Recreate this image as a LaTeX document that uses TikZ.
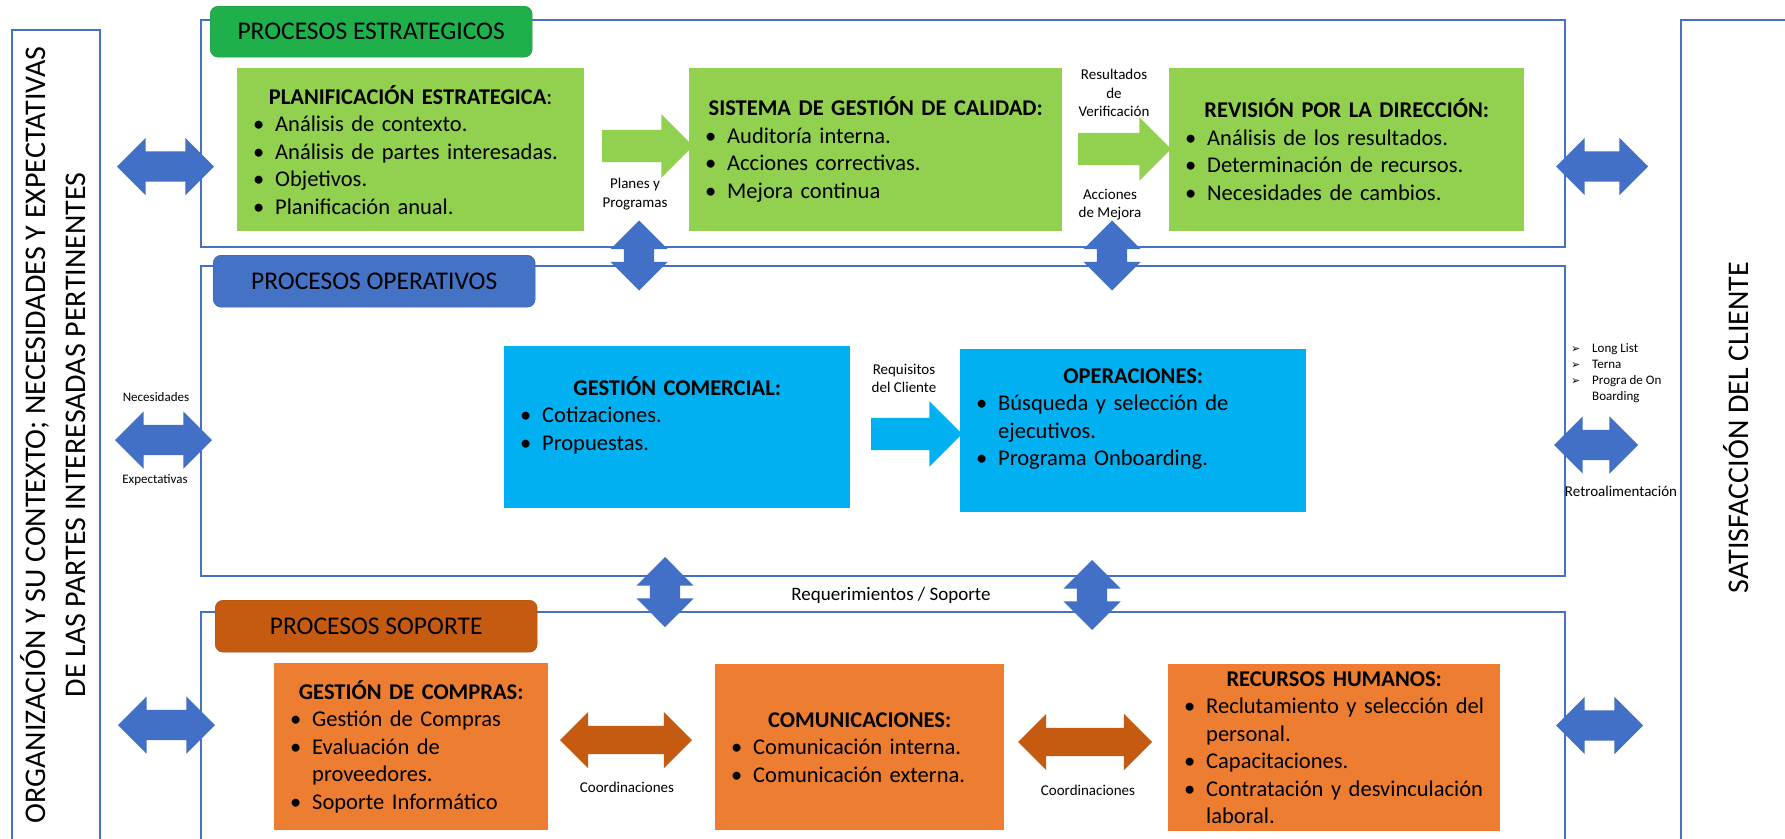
\documentclass[tikz,border=0pt]{standalone}
\usepackage{fontspec}
\setmainfont{Carlito}
\newfontfamily\symfont{DejaVu Sans}
\usetikzlibrary{arrows.meta,positioning,shapes.arrows}
\definecolor{MapBlue}{HTML}{4472C4}
\definecolor{MapArrow}{HTML}{4270C6}
\definecolor{MapGreen}{HTML}{92D050}
\definecolor{MapTabGreen}{HTML}{1FAF4B}
\definecolor{MapCyan}{HTML}{00B0F0}
\definecolor{MapOrange}{HTML}{ED7D31}
\definecolor{MapRust}{HTML}{C55A11}
\newcommand{\boxhead}[2][]{{\centering\bfseries #2\mdseries#1\par}}
\newcommand{\bul}[1]{\par\noindent\makebox[27pt][l]{\hspace*{5pt}\textbullet}#1}
\newcommand{\cont}[1]{\par\noindent\hspace*{27pt}#1}
\newcommand{\lst}{\makebox[21pt][l]{\symfont\fontsize{11}{11}\selectfont ➢}}
\tikzset{
  panel/.style={draw=MapBlue, line width=2pt, anchor=north west, inner sep=0pt},
  tab/.style={rounded corners=8pt, minimum width=322pt, minimum height=51pt, inner sep=0pt,
    anchor=north west, font=\fontsize{25.5}{30}\selectfont},
  activity/.style={anchor=north west, inner xsep=11pt, inner ysep=0pt, align=left,
    font=\fontsize{22.5}{27.5}\selectfont},
  biarrow/.style={double arrow, fill=MapArrow, inner xsep=0pt, inner ysep=15pt,
    double arrow head extend=13.5pt, double arrow tip angle=90},
  fwdarrow/.style={single arrow, inner xsep=0pt, inner ysep=16pt,
    single arrow head extend=15.5pt, single arrow tip angle=90},
  tag/.style={inner sep=0pt, align=center, font=\fontsize{15}{18.5}\selectfont},
  smalltag/.style={inner sep=0pt, align=center, font=\fontsize{13}{16}\selectfont},
  sidetext/.style={rotate=90, align=center, inner sep=0pt, font=\fontsize{30}{40}\selectfont}
}
\begin{document}
\begin{tikzpicture}[x=1pt, y=-1pt]
  \clip (0,0) rectangle (1785,838);
  \fill[white] (0,0) rectangle (1785,838);
  \node[panel, minimum width=88pt, minimum height=830pt] (orgbox) at (11,29) {};
  \node[panel, minimum width=120pt, minimum height=840pt] (clientbox) at (1680,19) {};
  \node[panel, minimum width=1364pt, minimum height=227pt] (stratpanel) at (200,19) {};
  \node[panel, minimum width=1364pt, minimum height=310pt] (opspanel) at (200,265) {};
  \node[panel, minimum width=1364pt, minimum height=240pt] (suppanel) at (200,611) {};
  \node[sidetext] (orgtext) at (53,435) {ORGANIZACIÓN Y SU CONTEXTO; NECESIDADES Y EXPECTATIVAS\\DE LAS PARTES INTERESADAS PERTINENTES};
  \node[sidetext] (clienttext) at (1736,427.5) {SATISFACCIÓN DEL CLIENTE};

  \node[tab, fill=MapTabGreen, draw=MapTabGreen!85!black] (tabstrat) at (210,6) {PROCESOS ESTRATEGICOS};
  \node[tab, fill=MapBlue, draw=MapBlue!85!black, minimum height=52pt] (tabops) at (213,255) {PROCESOS OPERATIVOS};
  \node[tab, fill=MapRust, draw=MapRust!85!black, minimum height=52pt] (tabsup) at (215,600) {PROCESOS SOPORTE};

  \node[activity, fill=MapGreen, minimum width=347pt, minimum height=163pt, text width=325pt] (planif) at (237,68)
    {\boxhead[:]{PLANIFICACIÓN ESTRATEGICA}
     \bul{Análisis de contexto.}
     \bul{Análisis de partes interesadas.}
     \bul{Objetivos.}
     \bul{Planificación anual.}};
  \node[activity, fill=MapGreen, minimum width=373pt, minimum height=163pt, text width=351pt] (sgc) at (689,68)
    {\boxhead{SISTEMA DE GESTIÓN DE CALIDAD:}
     \bul{Auditoría interna.}
     \bul{Acciones correctivas.}
     \bul{Mejora continua}};
  \node[activity, fill=MapGreen, minimum width=355pt, minimum height=163pt, text width=333pt] (revision) at (1169,68)
    {\boxhead{REVISIÓN POR LA DIRECCIÓN:}
     \bul{Análisis de los resultados.}
     \bul{Determinación de recursos.}
     \bul{Necesidades de cambios.}};
  \node[activity, fill=MapCyan, minimum width=346pt, minimum height=162pt, text width=324pt] (comercial) at (504,346)
    {\boxhead{GESTIÓN COMERCIAL:}
     \bul{Cotizaciones.}
     \bul{Propuestas.}
     \par\mbox{}};
  \node[activity, fill=MapCyan, minimum width=346pt, minimum height=163pt, text width=324pt] (operaciones) at (960,349)
    {\boxhead{OPERACIONES:}
     \bul{Búsqueda y selección de}
     \cont{ejecutivos.}
     \bul{Programa Onboarding.}
     \par\mbox{}};
  \node[activity, fill=MapOrange, minimum width=274pt, minimum height=167pt, text width=252pt] (compras) at (274,663)
    {\boxhead{GESTIÓN DE COMPRAS:}
     \bul{Gestión de Compras}
     \bul{Evaluación de}
     \cont{proveedores.}
     \bul{Soporte Informático}};
  \node[activity, fill=MapOrange, minimum width=289pt, minimum height=166pt, text width=267pt] (comunicaciones) at (715,664)
    {\boxhead{COMUNICACIONES:}
     \bul{Comunicación interna.}
     \bul{Comunicación externa.}};
  \node[activity, fill=MapOrange, minimum width=332pt, minimum height=167pt, text width=310pt] (rrhh) at (1168,664)
    {\boxhead{RECURSOS HUMANOS:}
     \bul{Reclutamiento y selección del}
     \cont{personal.}
     \bul{Capacitaciones.}
     \bul{Contratación y desvinculación}
     \cont{laboral.}};

  \node[biarrow, minimum height=97pt] (orgstrat) at (165.5,166.5) {};
  \node[biarrow, minimum height=92pt] (stratclient) at (1602,166.5) {};
  \node[biarrow, minimum height=97pt] (orgops) at (163.5,440) {};
  \node[biarrow, minimum height=84pt] (opsclient) at (1596,445) {};
  \node[biarrow, minimum height=97pt] (orgsup) at (166.5,725) {};
  \node[biarrow, minimum height=87pt] (supclient) at (1599.5,725.5) {};
  \node[biarrow, rotate=90, minimum height=70pt] (stratops1) at (639,255.5) {};
  \node[biarrow, rotate=90, minimum height=70pt] (stratops2) at (1112,255.5) {};
  \node[biarrow, rotate=90, minimum height=70pt] (opssup1) at (665,592) {};
  \node[biarrow, rotate=90, minimum height=70pt] (opssup2) at (1092,595) {};
  \node[biarrow, fill=MapRust, inner ysep=14pt, double arrow head extend=14pt, minimum height=132pt] (coord1) at (626,740) {};
  \node[biarrow, fill=MapRust, inner ysep=14pt, double arrow head extend=14pt, minimum height=134pt] (coord2) at (1085,742) {};
  \node[fwdarrow, fill=MapGreen, minimum height=91pt] (planflow) at (639.5,146) {};
  \node[fwdarrow, fill=MapGreen, minimum height=93pt] (verifflow) at (1116.5,149) {};
  \node[fwdarrow, fill=MapCyan, single arrow head extend=16.5pt, minimum height=91pt] (reqflow) at (908.5,434) {};

  \node[tag] (planlabel) at (635,194) {Planes y\\Programas};
  \node[tag] (veriflabel) at (1114,93) {Resultados\\de\\Verificación};
  \node[tag] (mejoralabel) at (1110,204.5) {Acciones\\de Mejora};
  \node[smalltag] (needlabel) at (156,397) {Necesidades};
  \node[smalltag] (expectlabel) at (155,480) {Expectativas};
  \node[tag] (reqlabel) at (904,378.5) {Requisitos\\del Cliente};
  \node[smalltag, anchor=west, align=left] (deliverlabel) at (1571,373)
    {\lst Long List\\\lst Terna\\\lst Progra de On\\\hspace*{21pt}Boarding};
  \node[tag] (feedlabel) at (1621,491) {Retroalimentación};
  \node[tag, font=\fontsize{19}{22}\selectfont] (supportlabel) at (891,595) {Requerimientos / Soporte};
  \node[tag] (coordlabel1) at (627,787) {Coordinaciones};
  \node[tag] (coordlabel2) at (1088,790) {Coordinaciones};
\end{tikzpicture}
\end{document}
